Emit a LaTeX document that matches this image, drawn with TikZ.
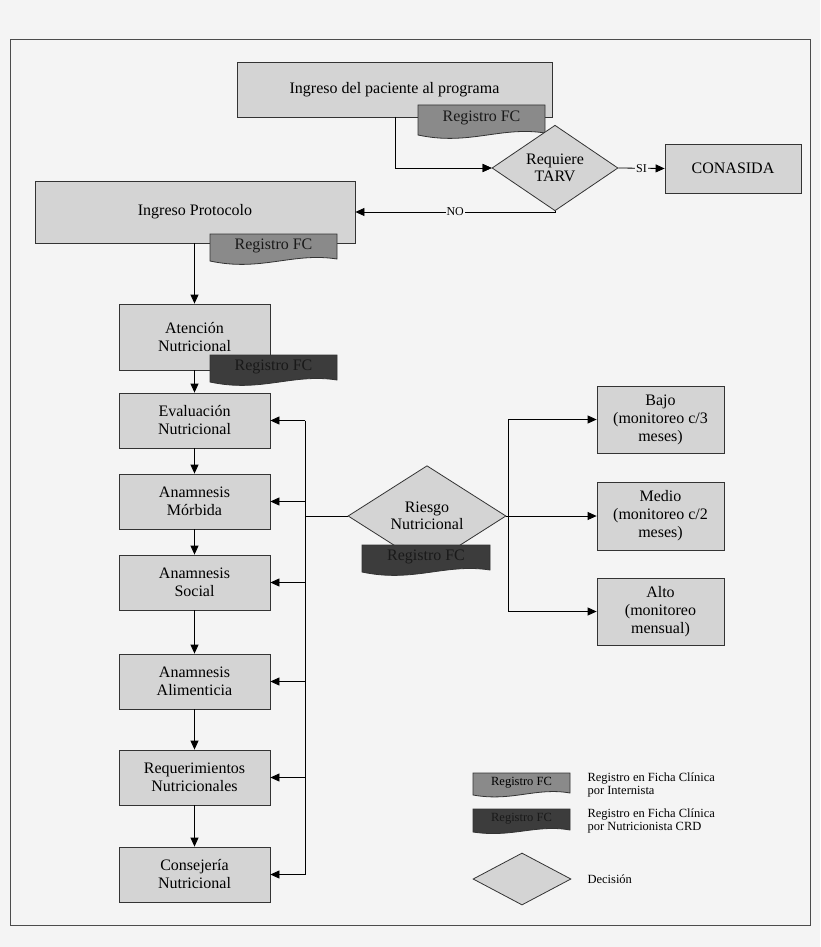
\documentclass[tikz,border=0pt]{standalone}
\usepackage{fontspec}
\setmainfont{Liberation Serif}
\usetikzlibrary{shapes.geometric,arrows.meta}
\definecolor{bg}{HTML}{F4F4F4}
\definecolor{boxc}{HTML}{D4D4D4}
\definecolor{midc}{HTML}{8A8A8A}
\definecolor{darkc}{HTML}{3C3C3C}
\newcommand\regdoc[6]{% name, x1,y1,x2,y2, color
  \fill[#6,draw=black!80,line width=0.8pt] (#2,#3)--(#4,#3)--(#4,#5)
    .. controls ({#4-0.35*(#4-#2)},{#5-7}) and ({#2+0.4*(#4-#2)},{#5+13}) .. (#2,{#5+2}) -- cycle;
  \node[font=\fontsize{16}{18}\selectfont,text=black!90] (#1) at ({(#2+#4)/2},{(#3+#5)/2-1}) {Registro FC};}
\begin{document}
\begin{tikzpicture}[x=1pt,y=-1pt,
  box/.style={draw=black!80,fill=boxc,line width=0.8pt,align=center,font=\fontsize{16}{18}\selectfont,inner sep=0pt},
  dec/.style={diamond,draw=black!80,fill=boxc,line width=0.8pt,align=center,font=\fontsize{16}{17}\selectfont,inner sep=0pt},
  arr/.style={-{Triangle[length=9pt,width=8pt]},line width=0.8pt},
  ln/.style={line width=0.8pt},
  lab/.style={fill=bg,font=\fontsize{12}{12}\selectfont,inner sep=1pt}]
\fill[bg] (0,0) rectangle (820,947);
\useasboundingbox (0,0) rectangle (820,947);
\draw[line width=1pt,black!70] (10,40) rectangle (810,925);
% top
\node[box,minimum width=315,minimum height=55] (top) at (394.5,89.5) {Ingreso del paciente al programa};
\regdoc{r1}{418}{105}{545}{133}{midc}
\node[dec,minimum width=126,minimum height=73] (tarv) at (555,168) {Requiere\\TARV};
\node[box,minimum width=136,minimum height=49] (cona) at (733,168.5) {CONASIDA};
\node[box,minimum width=320,minimum height=62] (prot) at (195,212) {Ingreso Protocolo};
\regdoc{r2}{210}{234}{337}{259}{midc}
\draw[ln] (top.south -| 395,0) |- (tarv.west) [arr];
\draw[arr] (395,117) |- (tarv.west);
\draw[arr] (tarv.east) -- node[lab]{SI} (cona.west);
\draw[arr] (tarv.south) |- node[lab,pos=0.75]{NO} (prot.east);
% left column
\node[box,minimum width=151,minimum height=66] (aten) at (194.5,337) {Atención\\Nutricional};
\draw[arr] (prot.south -| aten.north) -- (aten.north);
\regdoc{r3}{210}{355}{337}{380}{darkc}
\node[box,minimum width=151,minimum height=55] (eval) at (194.5,420.5) {Evaluación\\Nutricional};
\node[box,minimum width=151,minimum height=55] (morb) at (194.5,501.5) {Anamnesis\\Mórbida};
\node[box,minimum width=151,minimum height=55] (soc) at (194.5,582.5) {Anamnesis\\Social};
\node[box,minimum width=151,minimum height=55] (alim) at (194.5,681.5) {Anamnesis\\Alimenticia};
\node[box,minimum width=151,minimum height=55] (req) at (194.5,777.5) {Requerimientos\\Nutricionales};
\node[box,minimum width=151,minimum height=55] (cons) at (194.5,874.5) {Consejería\\Nutricional};
\draw[arr] (aten) -- (eval);
\draw[arr] (eval) -- (morb);
\draw[arr] (morb) -- (soc);
\draw[arr] (soc) -- (alim);
\draw[arr] (alim) -- (req);
\draw[arr] (req) -- (cons);
% bus
\coordinate (bt) at (305,420.5);
\coordinate (bb) at (305,874.5);
\draw[ln] (bt) -- (bb);
\foreach \n in {eval,morb,soc,alim,req,cons} \draw[arr] (\n.east -| bt) -- (\n.east);
\node[dec,minimum width=158,minimum height=84] (ries) at (427,516) {Riesgo\\Nutricional};
\regdoc{r4}{362}{545}{490}{570}{darkc}
\draw[ln] (ries.west) -- (ries.west -| bt);
% right
\node[box,minimum width=127,minimum height=67] (bajo) at (660.5,419.5) {Bajo\\(monitoreo c/3\\meses)};
\node[box,minimum width=127,minimum height=68] (medio) at (660.5,516) {Medio\\(monitoreo c/2\\meses)};
\node[box,minimum width=127,minimum height=67] (alto) at (660.5,611.5) {Alto\\(monitoreo\\mensual)};
\coordinate (rs) at (508,516);
\draw[ln] (ries.east) -- (rs);
\draw[arr] (rs) |- (bajo.west);
\draw[arr] (rs) |- (alto.west);
\draw[arr] (rs) -- (medio.west);
% legend
\begin{scope}[font=\fontsize{12.5}{13}\selectfont]
\fill[midc,draw=black!80,line width=0.8pt] (473,773)--(570,773)--(570,793) .. controls (536,787) and (512,802) .. (473,795) -- cycle;
\node[font=\fontsize{12.5}{13}\selectfont] (l1) at (521.5,783) {Registro FC};
\fill[darkc,draw=black!80,line width=0.8pt] (473,809)--(570,809)--(570,830) .. controls (536,824) and (512,838) .. (473,832) -- cycle;
\node[font=\fontsize{12.5}{13}\selectfont,text=black!90] (l2) at (521.5,819) {Registro FC};
\node[diamond,draw=black!80,fill=boxc,line width=0.8pt,minimum width=98,minimum height=52,inner sep=0pt] (l3) at (522,879) {};
\node[anchor=west,align=left,font=\fontsize{12.5}{13}\selectfont] (t1) at (584,785) {Registro en Ficha Clínica\\por Internista};
\node[anchor=west,align=left,font=\fontsize{12.5}{13}\selectfont] (t2) at (584,821) {Registro en Ficha Clínica\\por Nutricionista CRD};
\node[anchor=west,font=\fontsize{12.5}{13}\selectfont] (t3) at (584,879) {Decisión};
\end{scope}
\end{tikzpicture}
\end{document}
